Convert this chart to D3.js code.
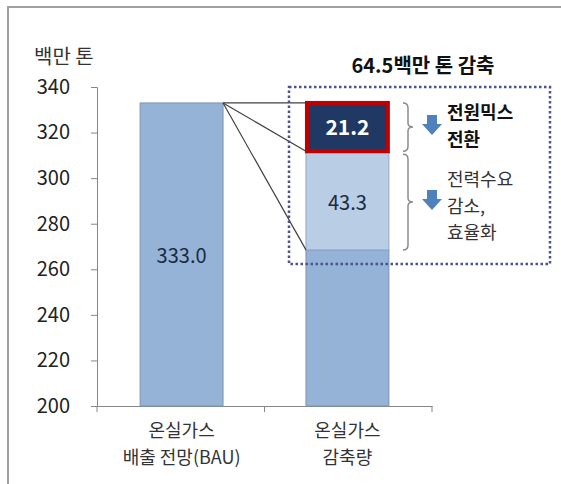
<!DOCTYPE html>
<html>
<head>
<meta charset="utf-8">
<script src="https://cdn.jsdelivr.net/npm/d3@7"></script>
<style>
  body { margin: 0; background: #fff; }
  svg { display: block; }
  text { font-family: "Noto Sans CJK KR", "Noto Sans", sans-serif; }
</style>
</head>
<body>
<div id="chart"></div>
<script>
// Data
const categories = ['온실가스|배출 전망(BAU)', '온실가스|감축량'];
const bauValue = 333.0;
const reductionLabels = ['전원믹스|전환', '전력수요|감소,|효율화'];
const reductionValues = [21.2, 43.3];
const yTicks = [200, 220, 240, 260, 280, 300, 320, 340];
const unitLabel = '백만 톤';
const totalLabel = '64.5백만 톤 감축';

const W = 561, H = 484;
const svg = d3.select('#chart').append('svg')
    .attr('width', W)
    .attr('height', H);

// Frame
svg.append('rect')
    .attr('x', 8).attr('y', 7)
    .attr('width', W).attr('height', H)
    .attr('fill', 'none')
    .attr('stroke', '#a0a0a0')
    .attr('stroke-width', 2);

const x = d3.scaleBand()
    .domain(categories)
    .range([97, 432])
    .paddingInner(0.5)
    .paddingOuter(0.26);

const y = d3.scaleLinear()
    .domain([200, 340])
    .range([406, 87]);

// Y axis
const yAxis = svg.append('g')
    .attr('transform', 'translate(97,0)')
    .call(d3.axisLeft(y).tickValues(yTicks).tickSize(6).tickPadding(21).tickFormat(d3.format('d')));
yAxis.select('.domain').attr('stroke', '#868686');
yAxis.selectAll('.tick line').attr('stroke', '#868686');
yAxis.selectAll('.tick text')
    .attr('fill', '#222')
    .style('font-size', '20px');

// X axis
const xAxis = svg.append('g')
    .attr('transform', 'translate(0,406)')
    .call(d3.axisBottom(x).tickSize(0).tickFormat(''));
xAxis.select('.domain').attr('stroke', '#868686');
const bandEdges = [97, (x(categories[0]) + x.bandwidth() + x(categories[1])) / 2, 432];
xAxis.selectAll('.sep')
    .data(bandEdges)
    .enter().append('line')
    .attr('x1', d => d).attr('x2', d => d)
    .attr('y1', 0).attr('y2', 6)
    .attr('stroke', '#868686');

categories.forEach(c => {
    const t = svg.append('text')
        .attr('x', x(c) + x.bandwidth() / 2)
        .attr('y', 437)
        .attr('text-anchor', 'middle')
        .attr('fill', '#333')
        .style('font-size', '18px');
    c.split('|').forEach((line, i) => {
        t.append('tspan')
            .attr('x', x(c) + x.bandwidth() / 2)
            .attr('dy', i === 0 ? 0 : 26.5)
            .text(line);
    });
});

// Unit label
svg.append('text')
    .attr('x', 34).attr('y', 64)
    .attr('fill', '#333')
    .style('font-size', '20px')
    .text(unitLabel);

// BAU bar
const bx = x(categories[0]), bw = x.bandwidth();
svg.append('rect')
    .attr('x', bx).attr('y', y(bauValue))
    .attr('width', bw).attr('height', y(200) - y(bauValue))
    .attr('fill', '#95b3d7')
    .attr('stroke', '#7a93b5')
    .attr('stroke-width', 1);
svg.append('text')
    .attr('x', bx + bw / 2)
    .attr('y', (y(bauValue) + y(200)) / 2 + 9)
    .attr('text-anchor', 'middle')
    .attr('fill', '#1a2a40')
    .style('font-size', '20px')
    .text(bauValue.toFixed(1));

// Reduction stack
const rx = x(categories[1]);
const afterValue = bauValue - d3.sum(reductionValues);
const segTop1 = bauValue, segBot1 = bauValue - reductionValues[0];
const segBot2 = segBot1 - reductionValues[1];

// remaining emissions
svg.append('rect')
    .attr('x', rx).attr('y', y(afterValue))
    .attr('width', bw).attr('height', y(200) - y(afterValue))
    .attr('fill', '#95b3d7')
    .attr('stroke', '#7a93b5');

// demand reduction segment
svg.append('rect')
    .attr('x', rx).attr('y', y(segBot1))
    .attr('width', bw).attr('height', y(segBot2) - y(segBot1))
    .attr('fill', '#b9cde5')
    .attr('stroke', '#8ea8c8');
svg.append('text')
    .attr('x', rx + bw / 2)
    .attr('y', (y(segBot1) + y(segBot2)) / 2 + 9)
    .attr('text-anchor', 'middle')
    .attr('fill', '#1a2a40')
    .style('font-size', '20px')
    .text(reductionValues[1].toFixed(1));

// connector lines
[segTop1, segBot1, segBot2].forEach(v => {
    svg.append('line')
        .attr('x1', bx + bw).attr('y1', y(bauValue))
        .attr('x2', rx).attr('y2', y(v))
        .attr('stroke', '#404040')
        .attr('stroke-width', 1.2);
});

// power mix segment
svg.append('rect')
    .attr('x', rx + 1).attr('y', y(segTop1))
    .attr('width', bw - 2).attr('height', y(segBot1) - y(segTop1))
    .attr('fill', '#1f3864')
    .attr('stroke', '#c00000')
    .attr('stroke-width', 4);
svg.append('text')
    .attr('x', rx + bw / 2)
    .attr('y', (y(segTop1) + y(segBot1)) / 2 + 8)
    .attr('text-anchor', 'middle')
    .attr('fill', '#fff')
    .style('font-size', '21px')
    .style('font-weight', 'bold')
    .text(reductionValues[0].toFixed(1));

// dotted box
svg.append('rect')
    .attr('x', 289).attr('y', 87)
    .attr('width', 261).attr('height', 177)
    .attr('fill', 'none')
    .attr('stroke', '#4b5194')
    .attr('stroke-width', 2.5)
    .attr('stroke-dasharray', '2.5,2.5');

svg.append('text')
    .attr('x', 423).attr('y', 73)
    .attr('text-anchor', 'middle')
    .attr('fill', '#111')
    .style('font-size', '20px')
    .style('font-weight', 'bold')
    .text(totalLabel);

// braces, arrows and notes
function brace(y0, y1) {
    const xa = 403, xb = 413, m = (y0 + y1) / 2;
    return `M${xa},${y0} Q${xa + 5},${y0} ${xa + 5},${y0 + 5} L${xa + 5},${m - 4} Q${xa + 5},${m} ${xb},${m}`
        + ` Q${xa + 5},${m} ${xa + 5},${m + 4} L${xa + 5},${y1 - 5} Q${xa + 5},${y1} ${xa},${y1}`;
}
function arrow(cx, top) {
    return `M${cx - 5},${top} L${cx + 5},${top} L${cx + 5},${top + 9} L${cx + 10},${top + 9}`
        + ` L${cx},${top + 20} L${cx - 10},${top + 9} L${cx - 5},${top + 9} Z`;
}

const segRanges = [[segTop1, segBot1], [segBot1, segBot2]];
const noteFirstBaseline = [119, 186];
segRanges.forEach((r, i) => {
    const y0 = y(r[0]) + (i === 0 ? 0 : 3), y1 = y(r[1]);
    svg.append('path')
        .attr('d', brace(y0, y1))
        .attr('fill', 'none')
        .attr('stroke', '#8c8c8c')
        .attr('stroke-width', 1.5);
    const mid = (y0 + y1) / 2;
    svg.append('path')
        .attr('d', arrow(432, mid - 12))
        .attr('fill', '#4f81bd');
    const note = svg.append('text')
        .attr('x', 447)
        .attr('y', noteFirstBaseline[i])
        .attr('fill', i === 0 ? '#111' : '#333')
        .style('font-size', '18px')
        .style('font-weight', i === 0 ? 'bold' : 'normal');
    reductionLabels[i].split('|').forEach((line, j) => {
        note.append('tspan')
            .attr('x', 447)
            .attr('dy', j === 0 ? 0 : 26.5)
            .text(line);
    });
});
</script>
</body>
</html>
